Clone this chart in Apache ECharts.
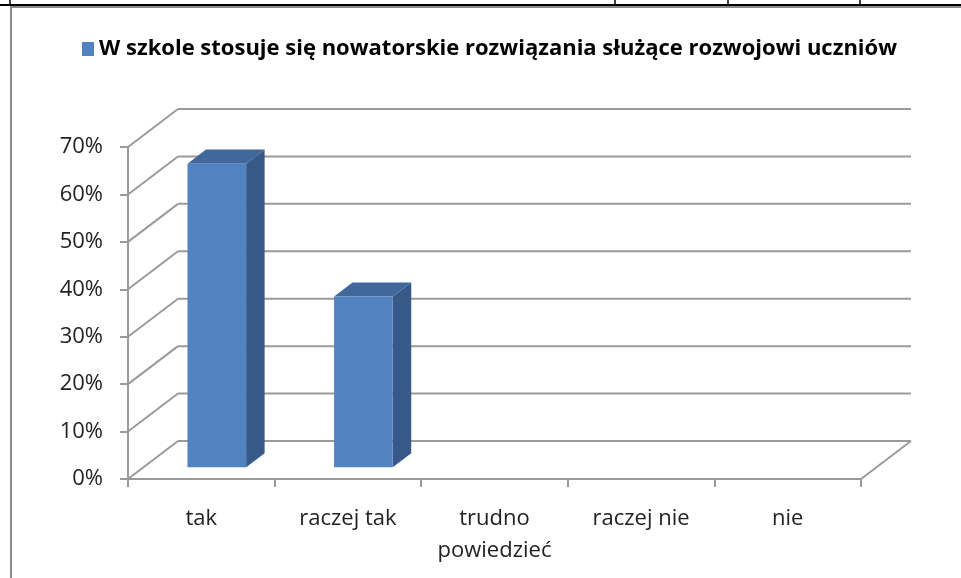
<!DOCTYPE html>
<html>
<head>
<meta charset="utf-8">
<title>W szkole stosuje się nowatorskie rozwiązania</title>
<script src="https://cdn.jsdelivr.net/npm/echarts@6/dist/echarts.min.js"></script>
<style>
  html, body { margin: 0; padding: 0; background: #fff; }
  #chart { width: 961px; height: 578px; }
</style>
</head>
<body>
<div id="chart"></div>
<script>
// dane
const seriesName = "W szkole stosuje się nowatorskie rozwiązania służące rozwojowi uczniów";
const categories = ["tak", "raczej tak", "trudno\npowiedzieć", "raczej nie", "nie"];
const values = [0.64, 0.36, 0, 0, 0];
const yTicks = [0, 0.1, 0.2, 0.3, 0.4, 0.5, 0.6, 0.7];

// głębia "3D"
const DX = 50, DY = -38;
const F0 = 0.31, F1 = 0.68;
const lineColor = "#9a9a9a";

const chart = echarts.init(document.getElementById("chart"));

function line(x1, y1, x2, y2) {
  return {
    type: "line",
    shape: { x1: x1, y1: y1, x2: x2, y2: y2 },
    style: { stroke: lineColor, lineWidth: 2 }
  };
}

// ściany: linie siatki z tyłu + skosy po lewej
function renderWalls(params, api) {
  const cs = params.coordSys;
  const v = api.value(1);
  const y = api.coord([0, v])[1];
  const x0 = cs.x, x1 = cs.x + cs.width;
  const children = [
    line(x0, y, x0 + DX, y + DY),
    line(x0 + DX, y + DY, x1 + DX, y + DY)
  ];
  if (v === 0) children.push(line(x1, y, x1 + DX, y + DY));
  return { type: "group", children: children };
}

function renderBar(params, api) {
  const idx = api.value(0);
  const val = api.value(1);
  if (!val) return;
  const base = api.coord([idx, 0]);
  const top = api.coord([idx, val]);
  const band = api.size([1, 0])[0];
  const w = band * 0.4;
  const L = base[0] + DX * F0 - w / 2;
  const R = L + w;
  const T = top[1] + DY * F0;
  const B = base[1] + DY * F0;
  const ddx = DX * (F1 - F0), ddy = DY * (F1 - F0);
  return {
    type: "group",
    children: [
      { type: "polygon", shape: { points: [[R, T], [R + ddx, T + ddy], [R + ddx, B + ddy], [R, B]] },
        style: { fill: "#37598a" } },
      { type: "polygon", shape: { points: [[L, T], [R, T], [R + ddx, T + ddy], [L + ddx, T + ddy]] },
        style: { fill: "#40689b" } },
      { type: "rect", shape: { x: L, y: T, width: w, height: B - T },
        style: { fill: "#5083c0" } }
    ]
  };
}

const option = {
  animation: false,
  color: ["#5083c0"],
  textStyle: { fontFamily: "Open Sans" },
  legend: {
    data: [seriesName],
    left: 77,
    top: 33,
    icon: "rect",
    itemWidth: 12,
    itemHeight: 14,
    itemGap: 6,
    textStyle: { fontSize: 22, fontWeight: "bold", color: "#000", fontFamily: "Open Sans" }
  },
  grid: { left: 128, right: 100, top: 147, bottom: 99, outerBoundsMode: "none" },
  xAxis: {
    type: "category",
    data: categories,
    axisLine: { lineStyle: { color: lineColor, width: 2 } },
    axisTick: { show: true, length: 8, lineStyle: { color: lineColor, width: 2 } },
    axisLabel: { fontSize: 22, color: "#222", margin: 24, lineHeight: 32, interval: 0 }
  },
  yAxis: {
    type: "value",
    min: 0,
    max: 0.7,
    interval: 0.1,
    splitLine: { show: false },
    axisLine: { show: true, lineStyle: { color: lineColor, width: 2 } },
    axisTick: { show: true, length: 8, lineStyle: { color: lineColor, width: 2 } },
    axisLabel: {
      fontSize: 22, color: "#222", margin: 25,
      formatter: v => Math.round(v * 100) + "%"
    }
  },
  graphic: [
    { type: "line", shape: { x1: 0, y1: 5, x2: 961, y2: 5 }, style: { stroke: "#000", lineWidth: 2 } },
    { type: "line", shape: { x1: 10, y1: 0, x2: 10, y2: 5 }, style: { stroke: "#000", lineWidth: 1.5 } },
    { type: "line", shape: { x1: 615, y1: 0, x2: 615, y2: 5 }, style: { stroke: "#000", lineWidth: 1.5 } },
    { type: "line", shape: { x1: 728, y1: 0, x2: 728, y2: 5 }, style: { stroke: "#000", lineWidth: 1.5 } },
    { type: "line", shape: { x1: 860, y1: 0, x2: 860, y2: 5 }, style: { stroke: "#000", lineWidth: 1.5 } },
    { type: "rect", shape: { x: 11, y: 7, width: 980, height: 600 },
      style: { fill: "none", stroke: "#8a8a8a", lineWidth: 2 } }
  ],
  series: [
    {
      type: "custom",
      name: "walls",
      silent: true,
      z: 1,
      renderItem: renderWalls,
      data: yTicks.map(v => [0, v])
    },
    {
      type: "custom",
      name: seriesName,
      z: 3,
      renderItem: renderBar,
      itemStyle: { color: "#5083c0" },
      data: values.map((v, i) => [i, v])
    }
  ]
};

chart.setOption(option);
window.addEventListener("resize", () => chart.resize());
</script>
</body>
</html>
